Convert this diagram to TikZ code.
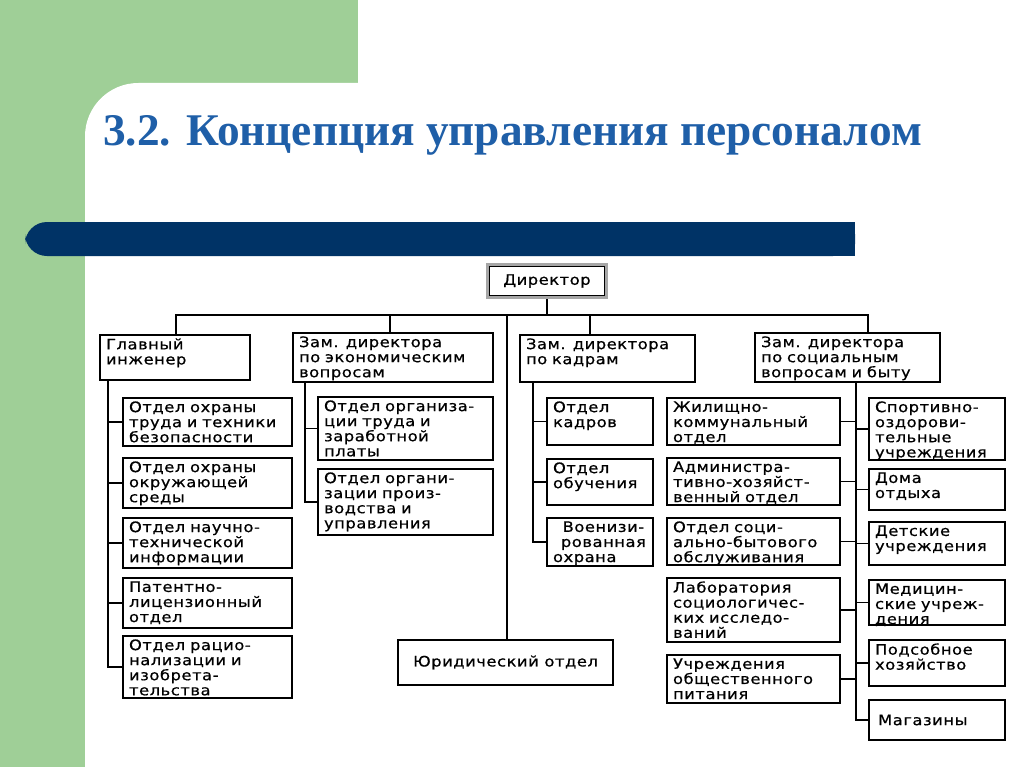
\documentclass[tikz,border=0pt]{standalone}
\usepackage{fontspec}
\setmainfont{DejaVu Sans}[FakeStretch=1.13,LetterSpace=4,FakeBold=0.6]
\newfontfamily\titlefont{Liberation Serif}
\definecolor{grn}{HTML}{9FCF97}
\definecolor{ttl}{HTML}{1F5FA8}
\definecolor{bar}{HTML}{003366}
\newcommand\bfnt{\fontsize{10.8}{11.3}\selectfont}
\tikzset{bx/.style={draw,line width=1.3pt,inner sep=0pt},
  ln/.style={line width=1.3pt}}
\newcommand\bx[6]{%
  \pgfmathsetlengthmacro\bw{#4*0.75pt}\pgfmathsetlengthmacro\bh{#5*0.75pt}%
  \pgfmathsetlengthmacro\tw{#4*0.75pt-4pt}%
  \node[bx,minimum width=\bw,minimum height=\bh] (#1) at ({#2+#4/2},{#3+#5/2}) {};
  \node[anchor=north west,align=left,inner sep=0pt,text width=\tw,font=\bfnt] at ([xshift=5pt,yshift=-3pt]#1.north west) {#6};}
\begin{document}
\begin{tikzpicture}[x=0.75pt,y=-0.75pt]
\useasboundingbox (0,0) rectangle (1024,767);
\fill[grn] (0,0) rectangle (1024,767);
\fill[white] (85,770) [rounded corners=40] -- (85,83) [sharp corners] -- (1024,83) -- (1024,770) -- cycle;
\fill[white] (358,0) rectangle (1024,84);
\node[anchor=base west,inner sep=0pt,text=ttl,font=\titlefont\bfseries\fontsize{34}{38}\selectfont] (title) at (103,145) {3.2. Концепция управления персоналом};
\fill[bar,rounded corners=16.5] (25,222) rectangle (855,256);
\fill[bar] (820,222) rectangle (855,256);
% director
\node[draw=gray!70,line width=3pt,minimum width=88.5pt,minimum height=24pt,font=\bfnt] (dir) at (547,281) {Директор};
\draw[line width=0.8pt] ([shift={(2.5pt,-2.5pt)}]dir.north west) rectangle ([shift={(-2.5pt,2.5pt)}]dir.south east);
% top level
\bx{gl}{100}{335}{150}{45}{Главный\\инженер}
\bx{ek}{293}{333}{200}{49}{Зам. директора\\по экономическим\\вопросам}
\bx{kd}{520}{335}{175}{47}{Зам. директора\\по кадрам}
\bx{sc}{755}{333}{185}{49}{Зам. директора\\по социальным\\вопросам и быту}
\bx{ur}{398}{640}{215}{45}{}
\node[font=\bfnt] at (ur.center) {Юридический отдел};
\coordinate (bl) at (176,315); \coordinate (br) at (868,315);
\draw[ln] (dir.south) -- (dir.south |- bl);
\draw[ln] (gl.north -| bl) |- (br) -- (sc.north -| br);
\draw[ln] (ek.north -| 390,0) -- (390,315);
\draw[ln] (kd.north -| 590,0) -- (590,315);
\draw[ln] (ur.north -| 507,0) -- (507,315);
% left column
\bx{l1}{123}{398}{169}{48}{Отдел охраны\\труда и техники\\безопасности}
\bx{l2}{123}{458}{169}{50}{Отдел охраны\\окружающей\\среды}
\bx{l3}{123}{518}{169}{50}{Отдел научно-\\технической\\информации}
\bx{l4}{123}{578}{169}{50}{Патентно-\\лицензионный\\отдел}
\bx{l5}{123}{636}{169}{62}{Отдел рацио-\\нализации и\\изобрета-\\тельства}
\draw[ln] (gl.south -| 108,0) |- (l5.west);
\foreach \n in {l1,l2,l3,l4} \draw[ln] (\n.west -| 108,0) -- (\n.west);
% econ column
\bx{e1}{318}{397}{175}{63}{Отдел организа-\\ции труда и\\заработной\\платы}
\bx{e2}{318}{469}{175}{66}{Отдел органи-\\зации произ-\\водства и\\управления}
\draw[ln] (ek.south -| 305,0) |- (e2.west);
\draw[ln] (e1.west -| 305,0) -- (e1.west);
% kadry column
\bx{k1}{547}{398}{106}{47}{Отдел\\кадров}
\bx{k2}{547}{459}{106}{46}{Отдел\\обучения}
\bx{k3}{547}{518}{106}{48}{\centering Военизи-\\рованная\\охрана}
\draw[ln] (kd.south -| 533,0) |- (k3.west);
\foreach \n in {k1,k2} \draw[ln] (\n.west -| 533,0) -- (\n.west);
% social column
\bx{s1}{667}{398}{173}{47}{Жилищно-\\коммунальный\\отдел}
\bx{s2}{667}{458}{173}{47}{Администра-\\тивно-хозяйст-\\венный отдел}
\bx{s3}{667}{518}{173}{47}{Отдел соци-\\ально-бытового\\обслуживания}
\bx{s4}{667}{578}{173}{64}{Лаборатория\\социологичес-\\ких исследо-\\ваний}
\bx{s5}{667}{655}{173}{48}{Учреждения\\общественного\\питания}
\bx{r1}{869}{398}{136}{62}{Спортивно-\\оздорови-\\тельные\\учреждения}
\bx{r2}{869}{469}{136}{41}{Дома\\отдыха}
\bx{r3}{869}{522}{136}{43}{Детские\\учреждения}
\bx{r4}{869}{580}{136}{45}{Медицин-\\ские учреж-\\дения}
\bx{r5}{869}{640}{136}{46}{Подсобное\\хозяйство}
\bx{r6}{869}{700}{136}{40}{}
\node[anchor=west,font=\bfnt] at ([xshift=4pt]r6.west) {Магазины};
\draw[ln] (sc.south -| 856,0) |- (r6.west);
\foreach \n in {s1,s2,s3,s4,s5} \draw[ln] (\n.east) -- (\n.east -| 856,0);
\foreach \n in {r1,r2,r3,r4,r5} \draw[ln] (\n.west -| 856,0) -- (\n.west);
\end{tikzpicture}
\end{document}
